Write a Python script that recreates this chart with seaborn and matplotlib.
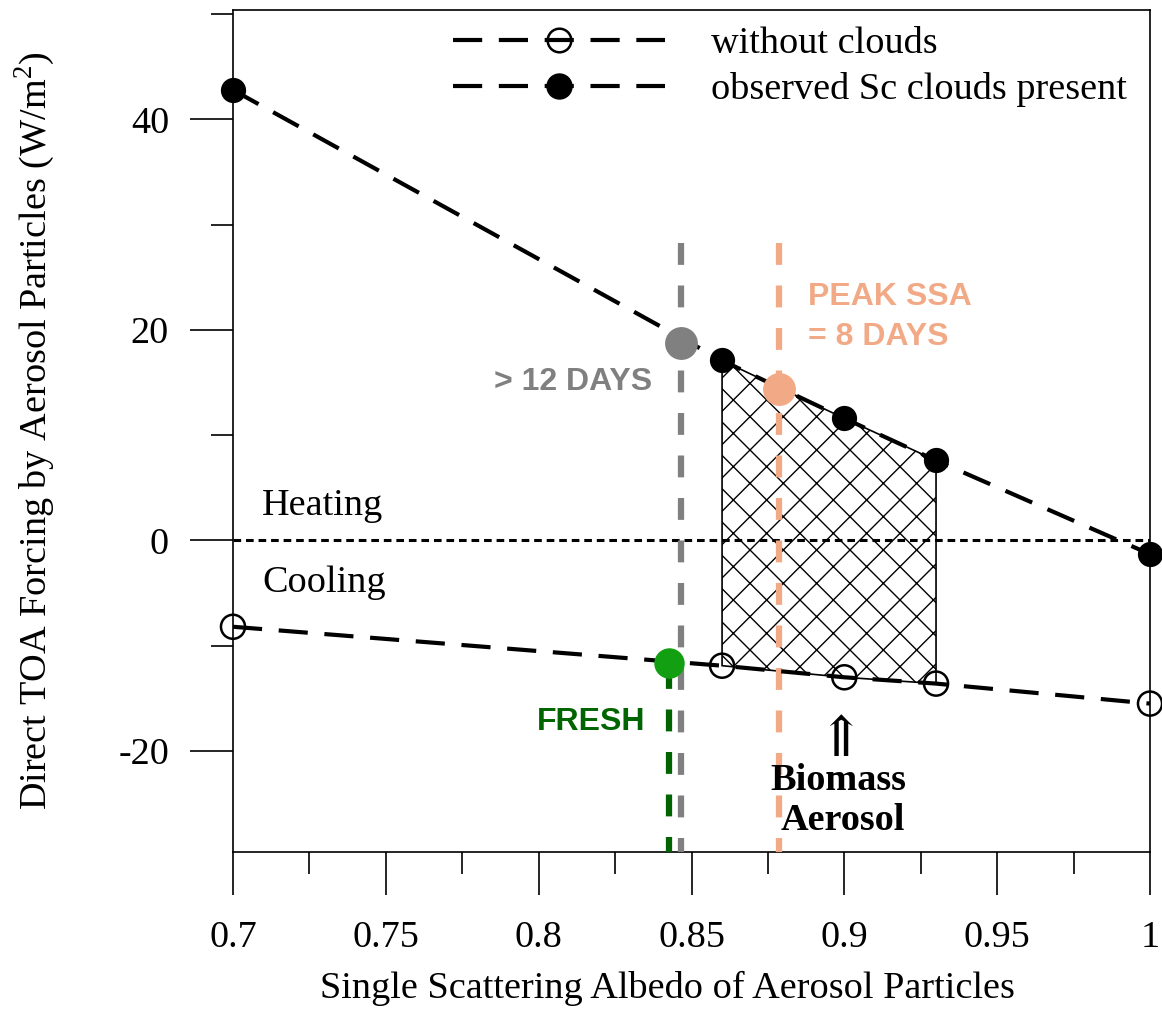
import numpy as np
import pandas as pd
import matplotlib
matplotlib.use("Agg")
import matplotlib.pyplot as plt
from matplotlib.lines import Line2D
from matplotlib.ticker import MultipleLocator, FixedLocator
import seaborn as sns

# ---------------- data ----------------
ssa = [0.70, 0.86, 0.90, 0.93, 1.00]
forcing_cloudy = [42.8, 17.1, 11.6, 7.6, -1.3]
forcing_clear = [-8.2, -11.9, -13.0, -13.6, -15.5]

hatch_ssa = [0.86, 0.90, 0.93]
hatch_top = [17.1, 11.6, 7.6]
hatch_bot = [-11.9, -13.0, -13.6]

aged_ssa, aged_val = 0.8466, 18.8      # > 12 days
peak_ssa, peak_val = 0.8786, 14.4      # peak SSA = 8 days
fresh_ssa, fresh_val = 0.8428, -11.6   # fresh

x_major = [0.7, 0.75, 0.8, 0.85, 0.9, 0.95, 1.0]
x_labels = ["0.7", "0.75", "0.8", "0.85", "0.9", "0.95", "1"]
y_major = [-20, 0, 20, 40]
y_labels = ["-20", "0", "20", "40"]

legend_labels = ["without clouds", "observed Sc clouds present"]

# ---------------- style ----------------
sns.set_theme(style="white")
plt.rcParams["font.family"] = ["Liberation Serif", "DejaVu Serif"]
plt.rcParams["mathtext.fontset"] = "custom"
plt.rcParams["mathtext.rm"] = "Liberation Serif"
plt.rcParams["text.color"] = "black"
plt.rcParams["axes.labelcolor"] = "black"
plt.rcParams["xtick.color"] = "black"
plt.rcParams["ytick.color"] = "black"

FS = 27.5
W, H = 1162, 1009
fig = plt.figure(figsize=(W / 100, H / 100), dpi=100)
ax = fig.add_axes([233 / W, 1 - 852 / H, (1150 - 233) / W, (852 - 10) / H])

DASH = (7, 4)
GRAY = "#808080"
ORANGE = "#F2A985"
DKGREEN = "#006400"
GREEN = "#12A012"

# hatched biomass region
poly_x = hatch_ssa + hatch_ssa[::-1]
poly_y = hatch_top + hatch_bot[::-1]
ax.fill(poly_x, poly_y, facecolor="none", edgecolor="black", hatch="x",
        linewidth=1.2, zorder=2)

# zero line
ax.plot([0.7, 1.0], [0, 0], color="black", lw=2.2, linestyle=(0, (2.5, 1.6)), zorder=2)

# vertical reference lines
ax.plot([aged_ssa, aged_ssa], [28.3, -30], color=GRAY, lw=4.5,
        linestyle=(0, (3.5, 3.3)), zorder=3)
ax.plot([peak_ssa, peak_ssa], [28.3, -30], color=ORANGE, lw=4.5,
        linestyle=(0, (3.5, 3.3)), zorder=3)
ax.plot([fresh_ssa, fresh_ssa], [-12, -30], color=DKGREEN, lw=4.5,
        linestyle=(0, (3.5, 3.3)), zorder=3)

df = pd.DataFrame({"ssa": ssa, "cloudy": forcing_cloudy, "clear": forcing_clear})

sns.lineplot(data=df, x="ssa", y="cloudy", ax=ax, color="black", lw=3,
             zorder=4, legend=False)
ax.lines[-1].set_dashes(DASH)
sns.lineplot(data=df, x="ssa", y="clear", ax=ax, color="black", lw=3,
             zorder=4, legend=False)
ax.lines[-1].set_dashes(DASH)

sns.scatterplot(data=df, x="ssa", y="cloudy", ax=ax, color="black", s=330,
                edgecolor="black", linewidth=0, zorder=5, legend=False, clip_on=False)
sns.scatterplot(data=df, x="ssa", y="clear", ax=ax, facecolor="none", s=300,
                edgecolor="black", linewidth=1.8, zorder=5, legend=False, clip_on=False)

sns.scatterplot(x=[aged_ssa], y=[aged_val], ax=ax, color=GRAY, s=560, linewidth=0, zorder=6)
sns.scatterplot(x=[peak_ssa], y=[peak_val], ax=ax, color=ORANGE, s=560, linewidth=0, zorder=6)
sns.scatterplot(x=[fresh_ssa], y=[fresh_val], ax=ax, color=GREEN, s=480, linewidth=0, zorder=6)

# annotations
sans = ["Liberation Sans", "DejaVu Sans"]
ax.text(0.8372, 15.1, "> 12 DAYS", color=GRAY, fontsize=23, fontweight="bold",
        family=sans, ha="right", va="center")
ax.text(0.888, 23.1, "PEAK SSA", color=ORANGE, fontsize=23, fontweight="bold",
        family=sans, ha="left", va="center")
ax.text(0.888, 19.3, "= 8 DAYS", color=ORANGE, fontsize=23, fontweight="bold",
        family=sans, ha="left", va="center")
ax.text(0.8348, -17.25, "FRESH", color=DKGREEN, fontsize=23, fontweight="bold",
        family=sans, ha="right", va="center")

ax.text(0.7095, 3.3, "Heating", fontsize=FS, ha="left", va="center")
ax.text(0.7095, -4.0, "Cooling", fontsize=FS, ha="left", va="center")
ax.text(0.8986, -19.0, "⇑", fontsize=40, ha="center", va="center",
        family=["DejaVu Serif", "DejaVu Sans"], fontweight="light")
ax.text(0.898, -22.8, "Biomass", fontsize=FS, fontweight="bold", ha="center", va="center")
ax.text(0.8995, -26.6, "Aerosol", fontsize=FS, fontweight="bold", ha="center", va="center")

# axes
ax.set_xlim(0.7, 1.0)
ax.set_ylim(-29.6, 50.4)
ax.xaxis.set_major_locator(FixedLocator(x_major))
ax.set_xticklabels(x_labels)
ax.xaxis.set_minor_locator(MultipleLocator(0.025))
ax.yaxis.set_major_locator(FixedLocator(y_major))
ax.set_yticklabels(y_labels)
ax.yaxis.set_minor_locator(FixedLocator([-30, -10, 10, 30, 50]))

ax.tick_params(axis="both", which="major", direction="out", length=31, width=1.2,
               labelsize=FS, color="black", labelcolor="black", bottom=True, left=True)
ax.tick_params(axis="both", which="minor", direction="out", length=16, width=1.2,
               color="black", bottom=True, left=True)
ax.tick_params(axis="x", which="major", pad=18)
ax.tick_params(axis="y", which="major", pad=15)

for s in ax.spines.values():
    s.set_color("black")
    s.set_linewidth(1.2)
    s.set_visible(True)
ax.grid(False)

ax.set_xlabel("Single Scattering Albedo of Aerosol Particles", fontsize=FS)
ax.xaxis.set_label_coords(0.4733, -0.141)
ax.set_ylabel("Direct TOA Forcing by Aerosol Particles (W/m$^2$)", fontsize=FS, labelpad=44)

# legend
handles = [
    Line2D([], [], color="black", lw=3, dashes=DASH, marker="o", markersize=17,
           markerfacecolor="none", markeredgecolor="black", markeredgewidth=1.8),
    Line2D([], [], color="black", lw=3, dashes=DASH, marker="o", markersize=18,
           markerfacecolor="black", markeredgecolor="black"),
]
ax.legend(handles, legend_labels, loc="upper left", bbox_to_anchor=(0.2065, 1.017),
          frameon=False, fontsize=FS, handlelength=5.55, handletextpad=1.2,
          labelspacing=0.3, borderpad=0.3)

fig.savefig("out.png", dpi=100)
